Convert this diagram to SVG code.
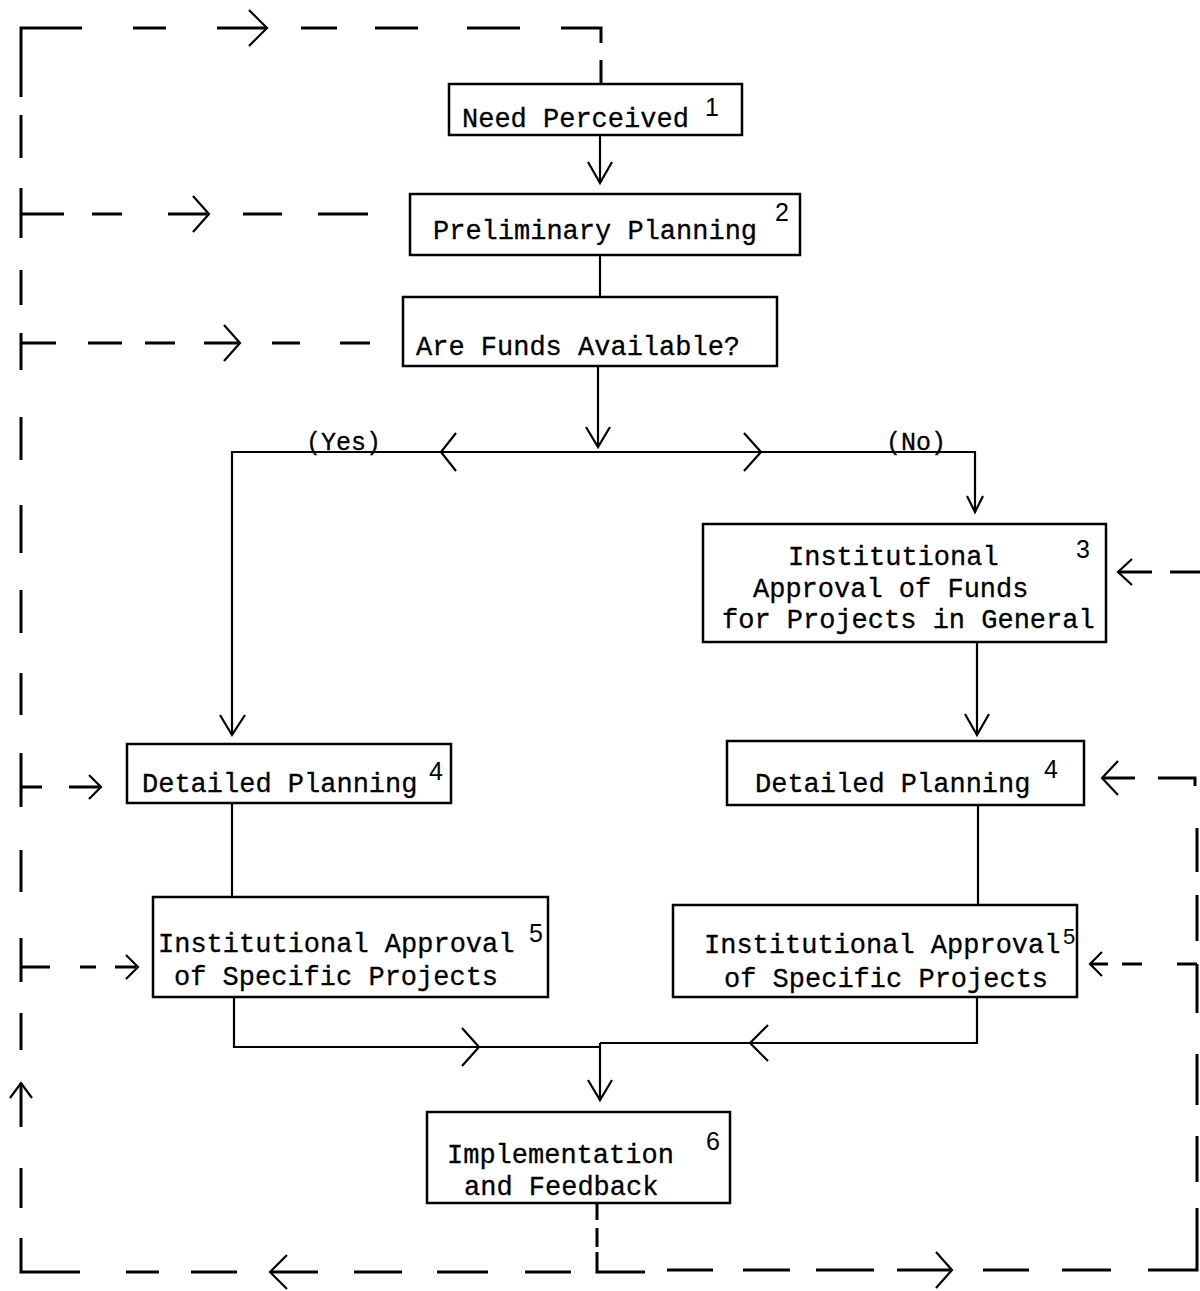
<svg xmlns="http://www.w3.org/2000/svg" width="1200" height="1291" viewBox="0 0 1200 1291">
<style>
.box{fill:none;stroke:#000;stroke-width:2.5}
.ln{fill:none;stroke:#000;stroke-width:2.2;stroke-linecap:butt}
.ah{fill:none;stroke:#000;stroke-width:2.2;stroke-linejoin:miter}
.ds{fill:none;stroke:#000;stroke-width:3}
.t{font-family:"Liberation Mono","DejaVu Sans Mono",monospace;font-size:27px;fill:#000;stroke:#000;stroke-width:0.3}
.lb{font-family:"Liberation Mono","DejaVu Sans Mono",monospace;font-size:25px;fill:#000;stroke:#000;stroke-width:0.3}
.n{font-family:"Liberation Sans","DejaVu Sans",sans-serif;font-size:25px;fill:#000}
</style>
<rect width="1200" height="1291" fill="#fff"/>

<g id="connectors">
  <!-- solid flow lines -->
  <path class="ln" d="M600,135 V183"/>
  <polyline class="ah" points="588,162 600,183 612,162"/>
  <path class="ln" d="M600,255 V297"/>
  <path class="ln" d="M598,366 V447"/>
  <polyline class="ah" points="586,427 598,447 610,427"/>
  <path class="ln" d="M232,735 V452 H975 V512"/>
  <polyline class="ah" points="456,433 441,452 456,471"/>
  <polyline class="ah" points="744,433 761,452 744,471"/>
  <polyline class="ah" points="967,496 975,512 983,496"/>
  <polyline class="ah" points="220,715 232,735 245,715"/>
  <path class="ln" d="M977,642 V735"/>
  <polyline class="ah" points="965,714 977,735 989,714"/>
  <path class="ln" d="M232,803 V897"/>
  <path class="ln" d="M978,805 V905"/>
  <path class="ln" d="M234,997 V1047 H600"/>
  <polyline class="ah" points="462,1028 479,1047 462,1066"/>
  <path class="ln" d="M977,997 V1043 H600"/>
  <polyline class="ah" points="768,1025 750,1043 768,1061"/>
  <path class="ln" d="M600,1043 V1100"/>
  <polyline class="ah" points="588,1080 600,1100 612,1080"/>

  <!-- dashed feedback loop: left vertical -->
  <path class="ds" d="M21,97 V28 H82"/>
  <path class="ds" d="M21,115 V158 M21,188 V238 M21,270 V305 M21,333 V370 M21,417 V460 M21,505 V553 M21,590 V633 M21,673 V715 M21,753 V807 M21,850 V892 M21,938 V982 M21,1013 V1050 M21,1083 V1127 M21,1168 V1208"/>
  <path class="ds" d="M21,1238 V1272 H80"/>
  <polyline class="ah" points="10,1098 21,1083 32,1098"/>
  <!-- top horizontal -->
  <path class="ds" d="M133,28 H166 M217,28 H265 M301,28 H337 M375,28 H418 M467,28 H520"/>
  <polyline class="ah" points="249,10 267,28 249,46"/>
  <path class="ds" d="M561,28 H601 V43 M601,60 V84"/>
  <!-- left branches -->
  <path class="ds" d="M21,214 H64 M92,214 H122 M168,214 H207 M243,214 H282 M318,214 H368"/>
  <polyline class="ah" points="193,196 209,214 193,232"/>
  <path class="ds" d="M21,343 H56 M88,343 H122 M145,343 H175 M204,343 H238 M272,343 H300 M340,343 H370"/>
  <polyline class="ah" points="224,325 240,343 224,361"/>
  <path class="ds" d="M21,787 H42 M69,787 H99"/>
  <polyline class="ah" points="89,775 101,787 89,799"/>
  <path class="ds" d="M21,967 H50 M80,967 H96 M115,967 H136"/>
  <polyline class="ah" points="126,955 138,967 126,979"/>
  <!-- from implementation downward -->
  <path class="ds" d="M597,1203 V1220 M597,1228 V1247"/>
  <path class="ds" d="M126,1272 H159 M191,1272 H237 M270,1272 H318 M354,1272 H402 M437,1272 H488 M525,1272 H571"/>
  <polyline class="ah" points="287,1255 270,1272 287,1289"/>
  <path class="ds" d="M597,1252 V1272 H645 M667,1270 H713 M743,1270 H790 M816,1270 H874 M897,1270 H950 M983,1270 H1029 M1062,1270 H1111"/>
  <polyline class="ah" points="936,1252 952,1270 936,1288"/>
  <!-- right vertical -->
  <path class="ds" d="M1148,1270 H1197 V1208 M1197,1182 V1136 M1197,1105 V1054 M1197,1013 V964 M1197,941 V895 M1197,872 V828"/>
  <path class="ds" d="M1158,778 H1195 V786"/>
  <path class="ds" d="M1102,778 H1135"/>
  <polyline class="ah" points="1118,761 1102,778 1118,795"/>
  <path class="ds" d="M1118,572 H1152 M1170,572 H1200"/>
  <polyline class="ah" points="1132,559 1118,572 1132,585"/>
  <path class="ds" d="M1090,964 H1108 M1122,964 H1142 M1177,964 H1197"/>
  <polyline class="ah" points="1102,952 1090,964 1102,976"/>
</g>

<g id="need-perceived">
  <rect class="box" x="449" y="84" width="293" height="51"/>
  <text class="t" x="462" y="127">Need Perceived</text>
  <text class="n" x="705" y="116">1</text>
</g>

<g id="preliminary-planning">
  <rect class="box" x="410" y="194" width="390" height="61"/>
  <text class="t" x="433" y="239">Preliminary Planning</text>
  <text class="n" x="775" y="221">2</text>
</g>

<g id="funds-available">
  <rect class="box" x="403" y="297" width="374" height="69"/>
  <text class="t" x="416" y="355">Are Funds Available?</text>
</g>

<g id="label-yes">
  <text class="lb" x="306" y="450">(Yes)</text>
</g>
<g id="label-no">
  <text class="lb" x="886" y="450">(No)</text>
</g>

<g id="approval-funds">
  <rect class="box" x="703" y="524" width="403" height="118"/>
  <text class="t" x="788" y="565">Institutional</text>
  <text class="t" x="753" y="597">Approval of Funds</text>
  <text class="t" x="722" y="628">for Projects in General</text>
  <text class="n" x="1076" y="558">3</text>
</g>

<g id="detailed-planning-left">
  <rect class="box" x="127" y="744" width="324" height="59"/>
  <text class="t" x="142" y="792">Detailed Planning</text>
  <text class="n" x="429" y="780">4</text>
</g>

<g id="detailed-planning-right">
  <rect class="box" x="727" y="741" width="357" height="64"/>
  <text class="t" x="755" y="792">Detailed Planning</text>
  <text class="n" x="1044" y="778">4</text>
</g>

<g id="approval-specific-left">
  <rect class="box" x="153" y="897" width="395" height="100"/>
  <text class="t" x="158" y="952">Institutional Approval</text>
  <text class="t" x="174" y="985">of Specific Projects</text>
  <text class="n" x="529" y="942">5</text>
</g>

<g id="approval-specific-right">
  <rect class="box" x="673" y="905" width="404" height="92"/>
  <text class="t" x="704" y="953">Institutional Approval</text>
  <text class="t" x="724" y="987">of Specific Projects</text>
  <text class="n" x="1063" y="944" style="font-size:22px">5</text>
</g>

<g id="implementation">
  <rect class="box" x="427" y="1112" width="303" height="91"/>
  <text class="t" x="447" y="1163">Implementation</text>
  <text class="t" x="464" y="1195">and Feedback</text>
  <text class="n" x="706" y="1150">6</text>
</g>
</svg>
